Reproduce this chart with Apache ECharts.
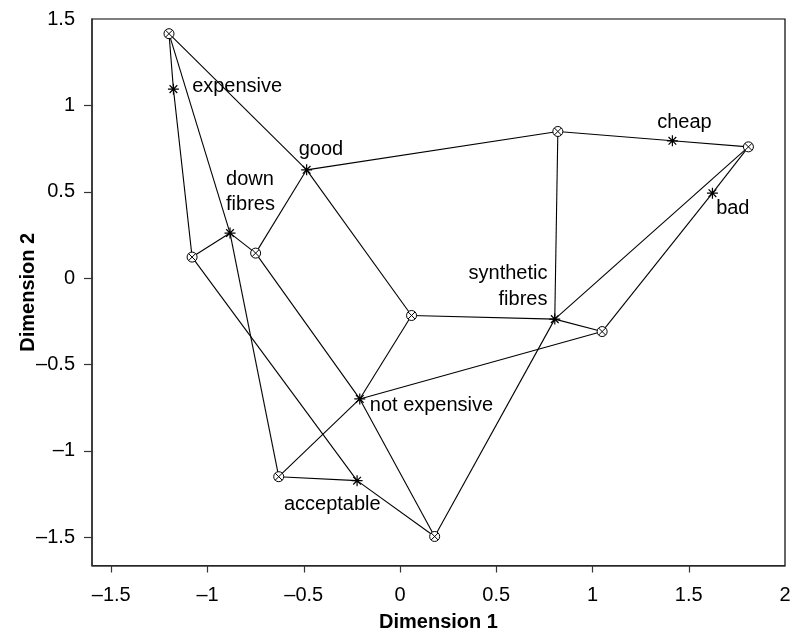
<!DOCTYPE html>
<html>
<head>
<meta charset="utf-8">
<script src="https://cdn.jsdelivr.net/npm/echarts@6/dist/echarts.min.js"></script>
<style>
html,body{margin:0;padding:0;background:#fff;}
#chart{width:800px;height:638px;}
</style>
</head>
<body>
<div id="chart"></div>
<script>
// ---- data ----
const objX = [-1.20, -1.08, -0.75, 0.82, 1.81, 0.06, 1.05, -0.63, 0.18];
const objY = [1.415, 0.122, 0.145, 0.849, 0.760, -0.216, -0.309, -1.149, -1.495];
const attrNames = ['expensive', 'down fibres', 'good', 'cheap', 'bad', 'synthetic fibres', 'not expensive', 'acceptable'];
const attrText = ['expensive', 'down\nfibres', 'good', 'cheap', 'bad', 'synthetic\nfibres', 'not expensive', 'acceptable'];
const attrX = [-1.177, -0.883, -0.485, 1.415, 1.623, 0.804, -0.209, -0.223];
const attrY = [1.094, 0.261, 0.627, 0.795, 0.492, -0.237, -0.699, -1.172];
// edges: [object index, attribute index]
const edges = [
  [0, 0], [0, 1], [0, 2],
  [1, 0], [1, 1], [1, 7],
  [2, 1], [2, 2], [2, 6],
  [3, 2], [3, 5], [3, 3],
  [4, 3], [4, 4], [4, 5],
  [5, 2], [5, 5], [5, 6],
  [6, 5], [6, 6], [6, 4],
  [7, 1], [7, 6], [7, 7],
  [8, 7], [8, 6], [8, 5]
];
const xTicks = [-1.5, -1, -0.5, 0, 0.5, 1, 1.5];
const xLabels = [-1.5, -1, -0.5, 0, 0.5, 1, 1.5, 2];
const yTicks = [-1.5, -1, -0.5, 0, 0.5, 1];
const yLabels = [-1.5, -1, -0.5, 0, 0.5, 1, 1.5];

// ---- label placement (style only) ----
const labelPlace = {
  'expensive':        { align: 'left',   offset: [18.7, -3] },
  'down fibres':      { align: 'left',   offset: [-4, -41], lineHeight: 25 },
  'good':             { align: 'center', offset: [14.3, -20.5] },
  'cheap':            { align: 'center', offset: [12, -18.5] },
  'bad':              { align: 'left',   offset: [3.7, 15] },
  'synthetic fibres': { align: 'right',  offset: [-7.3, -33], lineHeight: 26 },
  'not expensive':    { align: 'left',   offset: [10, 7] },
  'acceptable':       { align: 'center', offset: [-24.8, 24] }
};

const FONT = 'Liberation Sans, Arial, Helvetica, sans-serif';
const fmt = v => (v < 0 ? '\u2013' : '') + Math.abs(v);

const circleSym = 'path://M0 5 A5 5 0 1 1 10 5 A5 5 0 1 1 0 5 Z M1.46 1.46 L8.54 8.54 M1.46 8.54 L8.54 1.46';
const starSym = 'path://M5 0 L5 10 M0 5 L10 5 M1.5 1.5 L8.5 8.5 M1.5 8.5 L8.5 1.5';

const edgeData = edges.map(([o, a]) => ({ coords: [[objX[o], objY[o]], [attrX[a], attrY[a]]] }));
const objData = objX.map((x, i) => [x, objY[i]]);
const attrData = attrX.map((x, i) => {
  const p = labelPlace[attrNames[i]];
  return {
    value: [x, attrY[i]],
    name: attrNames[i],
    label: {
      show: true,
      formatter: attrText[i],
      position: 'inside',
      align: p.align,
      verticalAlign: 'middle',
      offset: p.offset,
      lineHeight: p.lineHeight || 22,
      color: '#000',
      fontSize: 20,
      fontFamily: FONT
    }
  };
});

const chart = echarts.init(document.getElementById('chart'), null, { renderer: 'canvas' });
chart.setOption({
  animation: false,
  backgroundColor: '#fff',
  grid: { left: 92, top: 19, right: 15, bottom: 72.5, show: true, borderColor: '#000', borderWidth: 1.2, backgroundColor: 'transparent' },
  xAxis: {
    type: 'value', min: -1.6, max: 2,
    splitLine: { show: false },
    axisLine: { show: true, onZero: false, lineStyle: { color: '#333', width: 1.5 } },
    axisTick: { show: true, length: 7, customValues: xTicks, lineStyle: { color: '#333', width: 1.2 } },
    axisLabel: { customValues: xLabels, formatter: fmt, fontSize: 20, color: '#000', margin: 20, fontFamily: FONT },
    name: 'Dimension 1', nameLocation: 'middle', nameGap: 47, nameMoveOverlap: false,
    nameTextStyle: { fontWeight: 'bold', fontSize: 20, color: '#000', fontFamily: FONT }
  },
  yAxis: {
    type: 'value', min: -1.663, max: 1.5,
    splitLine: { show: false },
    axisLine: { show: true, onZero: false, lineStyle: { color: '#333', width: 1.5 } },
    axisTick: { show: true, length: 8, customValues: yTicks, lineStyle: { color: '#333', width: 1.2 } },
    axisLabel: { customValues: yLabels, formatter: fmt, fontSize: 20, color: '#000', margin: 17, fontFamily: FONT },
    name: 'Dimension 2', nameLocation: 'middle', nameGap: 54, nameMoveOverlap: false,
    nameTextStyle: { fontWeight: 'bold', fontSize: 20, color: '#000', fontFamily: FONT }
  },
  series: [
    {
      type: 'lines', coordinateSystem: 'cartesian2d', z: 1,
      silent: true,
      lineStyle: { color: '#000', width: 1.1, opacity: 1, curveness: 0 },
      data: edgeData
    },
    {
      type: 'scatter', z: 3, silent: true,
      symbol: circleSym, symbolSize: 10,
      itemStyle: { color: '#fff', borderColor: '#000', borderWidth: 1, opacity: 1 },
      data: objData
    },
    {
      type: 'scatter', z: 4, silent: true,
      symbol: starSym, symbolSize: 11,
      itemStyle: { color: 'none', borderColor: '#000', borderWidth: 1.2, opacity: 1 },
      data: attrData
    }
  ]
});
</script>
</body>
</html>
